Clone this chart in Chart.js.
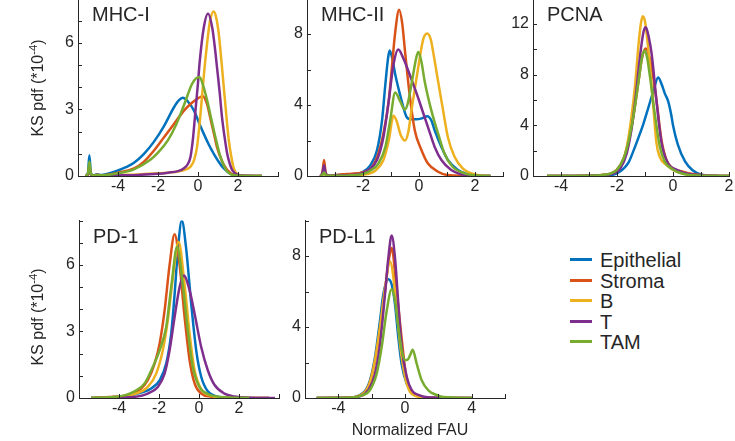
<!DOCTYPE html>
<html>
<head>
<meta charset="utf-8">
<script src="https://cdn.jsdelivr.net/npm/chart.js@4.4.1/dist/chart.umd.min.js"></script>
<style>
  body { margin: 0; width: 735px; height: 441px; background: #fff; position: relative; overflow: hidden;
         font-family: "Liberation Sans", Arial, sans-serif; color: #262626; }
  canvas { position: absolute; }
  .ytitle { position: absolute; font-size: 16px; white-space: nowrap; transform: translate(-50%, -50%) rotate(-90deg); }
  .ytitle sup { font-size: 0.7em; }
  .xtitle { position: absolute; font-size: 16px; white-space: nowrap; transform: translate(-50%, -50%); }
  .legend { position: absolute; left: 570px; top: 250px; }
  .legend div { height: 20.5px; line-height: 20.5px; font-size: 20px; white-space: nowrap; }
  .legend span.swatch { display: inline-block; width: 22px; height: 3px; vertical-align: middle; margin-right: 8px; position: relative; top: -2px; }
</style>
</head>
<body>
<canvas id="c1"></canvas>
<canvas id="c2"></canvas>
<canvas id="c3"></canvas>
<canvas id="c4"></canvas>
<canvas id="c5"></canvas>
<div class="ytitle" style="left:37px; top:88px;">KS pdf (*10<sup>-4</sup>)</div>
<div class="ytitle" style="left:37px; top:317px;">KS pdf (*10<sup>-4</sup>)</div>
<div class="xtitle" style="left:410px; top:430px;">Normalized FAU</div>
<div class="legend" id="legend"></div>
<script>
const cellTypes = ['Epithelial', 'Stroma', 'B', 'T', 'TAM'];
const colors = ['#0072BD', '#D95319', '#EDB120', '#7E2F8E', '#77AC30'];
const panelNames = ['MHC-I', 'MHC-II', 'PCNA', 'PD-1', 'PD-L1'];

// MHC-I
const mhc1Epi = [[-5.62,0],[-5.5,0.15],[-5.43,0.94],[-5.36,0.15],[-5.25,0.03],[-5.05,0.08],[-4.85,0.04],[-4.5,0.1],[-4,0.25],[-3.6,0.4],[-3.2,0.6],[-2.7,1.0],[-2.2,1.55],[-1.7,2.25],[-1.2,3.1],[-0.95,3.42],[-0.76,3.53],[-0.5,3.35],[-0.2,2.95],[0.05,2.4],[0.29,1.9],[0.55,1.4],[0.79,1.0],[1.05,0.62],[1.29,0.34],[1.63,0.1],[2.0,0.02],[2.5,0],[3.2,0]];
const mhc1Str = [[-5.62,0],[-5.5,0.1],[-5.43,0.45],[-5.36,0.1],[-5.25,0.02],[-5.05,0.06],[-4.85,0.03],[-4.5,0.06],[-4,0.15],[-3.2,0.34],[-2.7,0.65],[-2.2,1.15],[-1.7,1.75],[-1.2,2.35],[-0.7,2.95],[-0.3,3.3],[0,3.5],[0.24,3.6],[0.45,3.25],[0.62,2.6],[0.8,1.9],[0.95,1.3],[1.12,0.85],[1.29,0.5],[1.63,0.12],[2.0,0.02],[2.5,0],[3.2,0]];
const mhc1B = [[-5.62,0],[-5.5,0.06],[-5.43,0.2],[-5.36,0.06],[-5.25,0.01],[-4.5,0.02],[-4,0.04],[-3,0.07],[-2,0.12],[-1,0.2],[-0.6,0.3],[-0.375,0.42],[-0.2,0.7],[-0.05,1.3],[0.125,2.8],[0.25,4.1],[0.375,5.3],[0.6,6.99],[0.79,7.42],[0.92,7.1],[1.04,6.4],[1.17,5.2],[1.29,4.0],[1.42,2.7],[1.54,1.6],[1.67,0.85],[1.79,0.34],[2.04,0.05],[2.5,0],[3.2,0]];
const mhc1T = [[-5.62,0],[-5.5,0.08],[-5.43,0.28],[-5.36,0.08],[-5.25,0.01],[-5.0,0.03],[-4.5,0.02],[-4,0.03],[-3,0.05],[-2,0.1],[-1.5,0.15],[-1.0,0.22],[-0.7,0.35],[-0.5,0.55],[-0.375,0.87],[-0.25,1.7],[-0.125,2.96],[0.0,4.2],[0.09,5.2],[0.29,6.7],[0.5,7.33],[0.71,6.7],[0.83,5.9],[0.95,4.9],[1.08,3.8],[1.2,2.66],[1.33,1.75],[1.46,1.0],[1.59,0.55],[1.71,0.27],[2.0,0.05],[2.5,0.01],[3.2,0]];
const mhc1Tam = [[-5.62,0],[-5.5,0.12],[-5.43,0.65],[-5.36,0.12],[-5.25,0.02],[-5.05,0.05],[-4.85,0.03],[-4.5,0.05],[-4,0.12],[-3.2,0.3],[-2.4,0.72],[-2.0,1.05],[-1.5,1.62],[-1.1,2.3],[-0.7,3.2],[-0.3,4.15],[-0.1,4.4],[0.08,4.47],[0.25,4.1],[0.46,3.4],[0.62,2.75],[0.79,2.06],[0.95,1.45],[1.12,0.87],[1.29,0.48],[1.46,0.2],[1.8,0.03],[2.5,0],[3.2,0]];

// MHC-II
const mhc2Epi = [[-3.52,0],[-3.45,0.12],[-3.39,0.5],[-3.33,0.1],[-3.2,0.02],[-3.0,0.04],[-2.7,0.07],[-2.4,0.1],[-2.03,0.2],[-1.74,0.6],[-1.5,1.45],[-1.32,3.13],[-1.2,5.2],[-1.1,6.7],[-1.05,7.08],[-0.95,6.6],[-0.85,5.73],[-0.62,4.24],[-0.45,3.35],[-0.3,3.2],[-0.1,3.2],[0.1,3.25],[0.3,3.37],[0.45,3.1],[0.56,2.57],[0.8,1.64],[1.03,0.9],[1.39,0.34],[1.74,0.1],[2.2,0.02],[2.55,0]];
const mhc2Str = [[-3.52,0],[-3.45,0.2],[-3.39,0.9],[-3.33,0.15],[-3.2,0.02],[-3.0,0.05],[-2.74,0.1],[-2.4,0.13],[-2.03,0.2],[-1.68,0.5],[-1.45,1.27],[-1.27,2.4],[-1.08,4.24],[-0.97,6.1],[-0.85,8.1],[-0.71,9.37],[-0.6,8.6],[-0.5,7.04],[-0.32,4.4],[-0.15,2.57],[0.09,1.45],[0.32,0.7],[0.68,0.24],[1.03,0.05],[1.6,0.01],[2.55,0]];
const mhc2B = [[-3.52,0],[-3.45,0.05],[-3.39,0.15],[-3.33,0.04],[-3.2,0.01],[-2.5,0.02],[-2.0,0.08],[-1.56,0.3],[-1.27,0.9],[-1.08,2.0],[-0.91,3.4],[-0.8,3.1],[-0.65,2.3],[-0.5,2.0],[-0.38,2.5],[-0.27,3.7],[-0.03,6.1],[0.15,7.7],[0.29,8.03],[0.42,7.7],[0.5,7.04],[0.68,5.36],[0.86,3.7],[1.03,2.2],[1.27,1.08],[1.56,0.43],[1.97,0.1],[2.55,0]];
const mhc2T = [[-3.52,0],[-3.45,0.15],[-3.39,0.6],[-3.33,0.12],[-3.2,0.02],[-3.0,0.03],[-2.5,0.05],[-2.1,0.12],[-1.8,0.34],[-1.5,0.9],[-1.27,2.2],[-1.08,4.24],[-0.91,6.3],[-0.74,7.13],[-0.55,6.6],[-0.38,5.92],[-0.2,5.15],[-0.03,4.4],[0.15,3.55],[0.32,2.76],[0.56,1.64],[0.8,0.9],[1.15,0.34],[1.5,0.1],[2.0,0.02],[2.55,0]];
const mhc2Tam = [[-3.52,0],[-3.45,0.06],[-3.39,0.2],[-3.33,0.05],[-3.2,0.01],[-2.5,0.03],[-2.0,0.12],[-1.74,0.3],[-1.45,0.7],[-1.2,1.64],[-1.03,3.13],[-0.85,4.71],[-0.68,4.24],[-0.5,3.74],[-0.4,4.1],[-0.27,5.16],[-0.12,6.5],[-0.03,6.99],[0.08,6.5],[0.2,5.36],[0.44,3.7],[0.68,2.4],[0.91,1.27],[1.2,0.52],[1.62,0.15],[2.1,0.03],[2.55,0]];

// PCNA
const pcnaEpi = [[-4.5,0],[-3.0,0.01],[-2.3,0.05],[-2.0,0.2],[-1.76,0.6],[-1.58,1.1],[-1.41,2.0],[-1.23,3.05],[-1.06,4.1],[-0.88,5.4],[-0.7,6.7],[-0.53,7.77],[-0.4,7.2],[-0.29,6.5],[-0.18,5.95],[-0.06,4.8],[0.0,4.0],[0.17,2.5],[0.43,1.15],[0.7,0.45],[1.0,0.12],[1.5,0.02],[2.0,0]];
const pcnaStr = [[-4.5,0],[-3.0,0.02],[-2.5,0.08],[-2.2,0.2],[-2.0,0.5],[-1.76,1.4],[-1.58,2.8],[-1.4,4.9],[-1.23,7.5],[-1.1,9.4],[-0.97,10.07],[-0.87,9.6],[-0.76,8.56],[-0.59,5.95],[-0.41,2.82],[-0.23,1.25],[0.0,0.6],[0.35,0.34],[0.71,0.15],[1.2,0.04],[2.0,0]];
const pcnaB = [[-4.5,0],[-3.0,0.02],[-2.5,0.1],[-2.06,0.34],[-1.82,1.0],[-1.65,2.3],[-1.5,4.4],[-1.35,7.26],[-1.23,10.4],[-1.15,12.0],[-1.08,12.6],[-1.0,12.2],[-0.94,11.2],[-0.82,8.6],[-0.7,5.4],[-0.59,2.6],[-0.47,1.5],[-0.23,0.86],[0.12,0.34],[0.59,0.08],[1.2,0.02],[2.0,0]];
const pcnaT = [[-4.5,0],[-3.0,0.02],[-2.5,0.07],[-2.12,0.2],[-1.88,0.6],[-1.65,1.8],[-1.47,3.86],[-1.31,6.7],[-1.17,9.6],[-1.05,11.4],[-0.97,11.74],[-0.87,11.0],[-0.76,9.6],[-0.59,5.95],[-0.41,2.6],[-0.18,1.0],[0.12,0.5],[0.47,0.2],[1.0,0.05],[2.0,0]];
const pcnaTam = [[-4.5,0],[-3.0,0.02],[-2.5,0.08],[-2.23,0.2],[-2.0,0.5],[-1.76,1.4],[-1.58,2.8],[-1.4,4.9],[-1.23,7.5],[-1.12,9.2],[-1.03,9.91],[-0.93,9.4],[-0.82,7.8],[-0.65,4.9],[-0.47,2.3],[-0.29,1.1],[-0.06,0.6],[0.24,0.26],[0.7,0.06],[2.0,0]];

// PD-1
const pd1Epi = [[-5.4,0],[-4.5,0.03],[-3.5,0.1],[-2.89,0.24],[-2.39,0.43],[-1.97,0.8],[-1.64,1.55],[-1.39,2.9],[-1.23,4.55],[-1.06,6.64],[-0.86,8.0],[-0.65,6.8],[-0.39,4.25],[-0.14,2.15],[0.11,0.96],[0.44,0.3],[0.94,0.06],[1.5,0.01],[3.5,0]];
const pd1Str = [[-5.4,0],[-4.5,0.04],[-3.56,0.13],[-2.97,0.36],[-2.56,0.8],[-2.22,1.55],[-1.97,2.45],[-1.72,3.95],[-1.47,6.0],[-1.22,7.38],[-0.97,6.0],[-0.72,3.65],[-0.47,1.7],[-0.22,0.66],[0.11,0.2],[0.61,0.06],[1.2,0.01],[3.5,0]];
const pd1B = [[-5.4,0],[-4.5,0.03],[-3.22,0.18],[-2.56,0.5],[-2.14,1.1],[-1.81,2.15],[-1.56,3.5],[-1.31,5.4],[-1.02,7.05],[-0.72,5.1],[-0.47,2.9],[-0.22,1.25],[0.11,0.4],[0.61,0.1],[1.2,0.02],[3.5,0]];
const pd1T = [[-5.4,0],[-3.5,0.03],[-2.56,0.2],[-2.06,0.5],[-1.72,1.1],[-1.47,2.15],[-1.22,3.65],[-0.97,5.0],[-0.76,5.52],[-0.47,4.85],[-0.22,3.8],[0.11,2.3],[0.44,1.25],[0.77,0.6],[1.27,0.2],[1.77,0.07],[2.5,0.01],[3.8,0]];
const pd1Tam = [[-5.4,0],[-4.5,0.03],[-3.72,0.12],[-3.22,0.3],[-2.72,0.66],[-2.31,1.4],[-1.97,2.15],[-1.64,3.2],[-1.39,5.0],[-1.09,6.82],[-0.81,5.1],[-0.56,3.05],[-0.31,1.4],[0.02,0.5],[0.44,0.18],[1.11,0.05],[2.5,0]];

// PD-L1
const pdl1Epi = [[-5.3,0],[-3.5,0.02],[-2.5,0.3],[-2.1,1.0],[-1.8,2.3],[-1.5,4.36],[-1.3,5.85],[-1.0,6.69],[-0.8,6.4],[-0.6,5.3],[-0.4,3.4],[-0.2,1.9],[0.1,0.82],[0.5,0.26],[1.0,0.06],[4.0,0]];
const pdl1Str = [[-5.3,0],[-3.5,0.01],[-2.5,0.26],[-2.1,0.9],[-1.8,2.1],[-1.5,3.9],[-1.2,6.0],[-1.0,7.6],[-0.8,8.45],[-0.5,6.03],[-0.25,3.8],[0.05,1.37],[0.3,0.54],[0.7,0.17],[1.3,0.03],[4.0,0]];
const pdl1B = [[-5.3,0],[-3.5,0.01],[-2.5,0.26],[-2.1,0.9],[-1.8,2.14],[-1.5,4.0],[-1.2,6.2],[-0.9,7.7],[-0.6,6.03],[-0.3,3.05],[0.0,1.2],[0.3,0.35],[0.7,0.1],[1.3,0.02],[4.0,0]];
const pdl1T = [[-5.3,0],[-3.5,0.01],[-2.7,0.1],[-2.2,0.45],[-1.8,1.37],[-1.5,3.05],[-1.2,5.85],[-1.0,7.9],[-0.8,9.16],[-0.6,7.9],[-0.4,5.3],[-0.2,2.87],[0.1,1.2],[0.4,0.45],[0.8,0.17],[1.5,0.03],[4.0,0]];
const pdl1Tam = [[-5.3,0],[-3.5,0.01],[-2.5,0.17],[-2.1,0.45],[-1.7,1.37],[-1.4,2.87],[-1.1,4.9],[-0.8,6.13],[-0.6,5.5],[-0.4,4.0],[-0.2,2.7],[0.0,2.14],[0.15,2.15],[0.3,2.4],[0.46,2.72],[0.7,1.94],[1.0,1.0],[1.4,0.43],[1.9,0.17],[2.3,0.05],[4.0,0]];

// tick labels shown on each axis
const mhc1XLabels = [-4, -2, 0, 2], mhc1YLabels = [0, 3, 6];
const mhc2XLabels = [-2, 0, 2], mhc2YLabels = [0, 4, 8];
const pcnaXLabels = [-4, -2, 0, 2], pcnaYLabels = [0, 4, 8, 12];
const pd1XLabels = [-4, -2, 0, 2], pd1YLabels = [0, 3, 6];
const pdl1XLabels = [-4, 0, 4], pdl1YLabels = [0, 4, 8];

const axisColor = '#262626';
const fontFamily = '"Liberation Sans", Arial, sans-serif';
const yAxisW = 40, xAxisH = 30, padT = 12, padR = 14, tickLen = 4;

// box = [left, right, top, bottom] of the plot area in page pixels
const panels = [
  { id: 'c1', series: [mhc1Epi, mhc1Str, mhc1B, mhc1T, mhc1Tam], x: [-6, 4, 2], y: [8, 1], xl: mhc1XLabels, yl: mhc1YLabels, box: [78, 278, -3, 176] },
  { id: 'c2', series: [mhc2Epi, mhc2Str, mhc2B, mhc2T, mhc2Tam], x: [-4, 3, 1], y: [10, 2], xl: mhc2XLabels, yl: mhc2YLabels, box: [307, 503, -3, 176] },
  { id: 'c3', series: [pcnaEpi, pcnaStr, pcnaB, pcnaT, pcnaTam], x: [-5, 2, 1], y: [14, 2], xl: pcnaXLabels, yl: pcnaYLabels, box: [533, 729, -3, 176] },
  { id: 'c4', series: [pd1Epi, pd1Str, pd1B, pd1T, pd1Tam], x: [-6, 4, 2], y: [8, 1], xl: pd1XLabels, yl: pd1YLabels, box: [79, 279, 219, 398] },
  { id: 'c5', series: [pdl1Epi, pdl1Str, pdl1B, pdl1T, pdl1Tam], x: [-6, 6, 2], y: [10, 2], xl: pdl1XLabels, yl: pdl1YLabels, box: [305, 505, 219, 398] }
];

// inward tick marks (matlab style) + the panel name inside the axes
const axisDecor = {
  id: 'axisDecor',
  afterDraw(chart, args, opts) {
    const { ctx, chartArea: area, scales } = chart;
    ctx.save();
    ctx.strokeStyle = axisColor;
    ctx.lineWidth = 1;
    ctx.beginPath();
    scales.x.ticks.forEach(t => {
      const px = Math.round(scales.x.getPixelForValue(t.value)) + 0.5;
      ctx.moveTo(px, area.bottom);
      ctx.lineTo(px, area.bottom - tickLen);
    });
    scales.y.ticks.forEach(t => {
      const py = Math.round(scales.y.getPixelForValue(t.value)) + 0.5;
      ctx.moveTo(area.left, py);
      ctx.lineTo(area.left + tickLen, py);
    });
    ctx.stroke();
    ctx.fillStyle = axisColor;
    ctx.font = '20px ' + fontFamily;
    ctx.textBaseline = 'alphabetic';
    ctx.fillText(opts.label, area.left + 14, area.top + 22);
    ctx.restore();
  }
};

Chart.defaults.font.family = fontFamily;
Chart.defaults.color = axisColor;

panels.forEach((p, i) => {
  const [L, R, T, B] = p.box;
  const canvas = document.getElementById(p.id);
  canvas.width = yAxisW + (R - L) + padR;
  canvas.height = padT + (B - T) + xAxisH;
  canvas.style.left = (L - yAxisW) + 'px';
  canvas.style.top = (T - padT) + 'px';

  const datasets = p.series.map((s, k) => ({
    label: cellTypes[k],
    data: s.map(([x, y]) => ({ x, y })),
    borderColor: colors[k],
    borderWidth: 2.5,
    pointRadius: 0,
    fill: false,
    cubicInterpolationMode: 'monotone',
    order: cellTypes.length - k // later series drawn on top
  }));

  new Chart(canvas, {
    type: 'line',
    data: { datasets },
    plugins: [axisDecor],
    options: {
      responsive: false,
      animation: false,
      events: [],
      layout: { padding: { top: padT, right: padR, left: 0, bottom: 0 } },
      plugins: {
        legend: { display: false },
        tooltip: { enabled: false },
        axisDecor: { label: panelNames[i] }
      },
      scales: {
        x: {
          type: 'linear',
          min: p.x[0], max: p.x[1],
          grid: { display: false, drawTicks: false },
          border: { display: true, color: axisColor, width: 1 },
          ticks: {
            stepSize: p.x[2], autoSkip: false, maxRotation: 0, padding: 1,
            font: { size: 16 }, color: axisColor,
            callback: v => p.xl.includes(v) ? String(v) : ''
          },
          afterFit: s => { s.height = xAxisH; }
        },
        y: {
          type: 'linear',
          min: 0, max: p.y[0],
          grid: { display: false, drawTicks: false },
          border: { display: true, color: axisColor, width: 1 },
          ticks: {
            stepSize: p.y[1], autoSkip: false, padding: 4,
            font: { size: 16 }, color: axisColor,
            callback: v => p.yl.includes(v) ? String(v) : ''
          },
          afterFit: s => { s.width = yAxisW; }
        }
      }
    }
  });
});

// legend
const legend = document.getElementById('legend');
cellTypes.forEach((name, k) => {
  const row = document.createElement('div');
  row.innerHTML = '<span class="swatch" style="background:' + colors[k] + '"></span>' + name;
  legend.appendChild(row);
});
</script>
</body>
</html>
